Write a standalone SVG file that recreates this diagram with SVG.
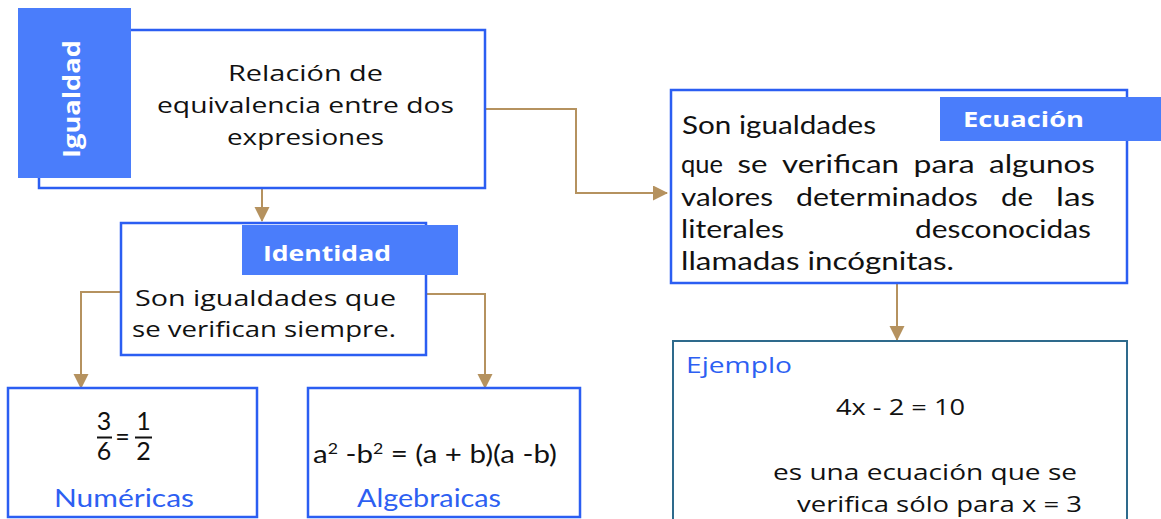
<svg xmlns="http://www.w3.org/2000/svg" width="1161" height="519" viewBox="0 0 1161 519">
<style>
.box{fill:#fff;stroke:#2b5ef2;stroke-width:2.5}
.ex{fill:#fff;stroke:#2e6a8c;stroke-width:2}
.lab{fill:#4a7dfb}
.t{font-family:"Open Sans","Noto Sans",sans-serif;font-size:22px;fill:#111}
.c{font-family:Lato,"Open Sans",sans-serif;font-size:25px;fill:#111}
.w{font-family:"Open Sans","Noto Sans",sans-serif;font-weight:bold;fill:#fff}
.b{font-family:"Open Sans","Noto Sans",sans-serif;font-size:22px;fill:#2d5ff2}
.bl{font-family:Lato,"Open Sans",sans-serif;font-size:25px;fill:#2d5ff2}
.con{fill:none;stroke:#b5925f;stroke-width:2}
</style>
<defs>
<marker id="ah" markerUnits="userSpaceOnUse" markerWidth="16" markerHeight="16" refX="14" refY="7.5" orient="auto">
<path d="M0,0 L15,7.5 L0,15 Z" fill="#b5925f"/>
</marker>
</defs>

<g id="connectors">
<path class="con" d="M262,188 V221" marker-end="url(#ah)"/>
<path class="con" d="M485,109 H576 V193 H667" marker-end="url(#ah)"/>
<path class="con" d="M121,292 H81 V388" marker-end="url(#ah)"/>
<path class="con" d="M426,294 H485 V388" marker-end="url(#ah)"/>
<path class="con" d="M897,283 V340" marker-end="url(#ah)"/>
</g>

<g id="igualdad">
<rect class="box" x="39" y="30" width="446" height="158"/>
<rect class="lab" x="18" y="8" width="113" height="170"/>
<text class="w" font-size="24" transform="translate(80,99) rotate(-90)" text-anchor="middle" textLength="118" lengthAdjust="spacingAndGlyphs">Igualdad</text>
<text class="t" x="228" y="81" textLength="155" lengthAdjust="spacingAndGlyphs">Relación de</text>
<text class="t" x="157" y="113" textLength="297" lengthAdjust="spacingAndGlyphs">equivalencia entre dos</text>
<text class="t" x="227" y="145" textLength="157" lengthAdjust="spacingAndGlyphs">expresiones</text>
</g>

<g id="identidad">
<rect class="box" x="121" y="223" width="305" height="132"/>
<rect class="lab" x="242" y="225" width="216" height="50"/>
<text class="w" font-size="22" x="263" y="261" textLength="128" lengthAdjust="spacingAndGlyphs">Identidad</text>
<text class="t" x="135" y="306" textLength="261" lengthAdjust="spacingAndGlyphs">Son igualdades que</text>
<text class="t" x="132" y="337" textLength="264" lengthAdjust="spacingAndGlyphs">se verifican siempre.</text>
</g>

<g id="ecuacion">
<rect class="box" x="671" y="90" width="456" height="193"/>
<rect class="lab" x="940" y="97" width="222" height="44"/>
<text class="w" font-size="22" x="963" y="127" textLength="121" lengthAdjust="spacingAndGlyphs">Ecuación</text>
<text class="c" x="682" y="134" textLength="194" lengthAdjust="spacingAndGlyphs">Son igualdades</text>
<text class="c" x="681" y="173" textLength="42" lengthAdjust="spacingAndGlyphs">que</text>
<text class="c" x="737.5" y="173" textLength="30" lengthAdjust="spacingAndGlyphs">se</text>
<text class="c" x="782" y="173" textLength="117" lengthAdjust="spacingAndGlyphs">verifican</text>
<text class="c" x="913.5" y="173" textLength="61" lengthAdjust="spacingAndGlyphs">para</text>
<text class="c" x="989" y="173" textLength="106" lengthAdjust="spacingAndGlyphs">algunos</text>
<text class="c" x="681" y="206" textLength="92" lengthAdjust="spacingAndGlyphs">valores</text>
<text class="c" x="796" y="206" textLength="182" lengthAdjust="spacingAndGlyphs">determinados</text>
<text class="c" x="1001" y="206" textLength="32" lengthAdjust="spacingAndGlyphs">de</text>
<text class="c" x="1056" y="206" textLength="39" lengthAdjust="spacingAndGlyphs">las</text>
<text class="c" x="681" y="238" textLength="103" lengthAdjust="spacingAndGlyphs">literales</text>
<text class="c" x="915" y="238" textLength="176" lengthAdjust="spacingAndGlyphs">desconocidas</text>
<text class="c" x="681" y="270" textLength="273" lengthAdjust="spacingAndGlyphs">llamadas incógnitas.</text>
</g>

<g id="ejemplo">
<rect class="ex" x="673" y="341" width="454" height="190"/>
<text class="b" x="686" y="373" textLength="106" lengthAdjust="spacingAndGlyphs">Ejemplo</text>
<text class="t" x="836" y="415" textLength="129" lengthAdjust="spacingAndGlyphs">4x - 2 = 10</text>
<text class="t" x="773" y="480" textLength="304" lengthAdjust="spacingAndGlyphs">es una ecuación que se</text>
<text class="t" x="797" y="512" textLength="285" lengthAdjust="spacingAndGlyphs">verifica sólo para x = 3</text>
</g>

<g id="numericas">
<rect class="box" x="8" y="388" width="249" height="129"/>
<text class="c" x="104" y="430" text-anchor="middle">3</text>
<text class="c" x="104" y="460" text-anchor="middle">6</text>
<line x1="97" y1="437.5" x2="112" y2="437.5" stroke="#111" stroke-width="2"/>
<text class="c" x="122.5" y="446" text-anchor="middle">=</text>
<text class="c" x="143.5" y="430" text-anchor="middle">1</text>
<text class="c" x="143.5" y="460" text-anchor="middle">2</text>
<line x1="135" y1="437.5" x2="152" y2="437.5" stroke="#111" stroke-width="2"/>
<text class="bl" x="54" y="507" textLength="140" lengthAdjust="spacingAndGlyphs">Numéricas</text>
</g>

<g id="algebraicas">
<rect class="box" x="308" y="388" width="272" height="129"/>
<text class="c" x="313" y="463" font-size="23" textLength="244" lengthAdjust="spacingAndGlyphs">a<tspan font-size="15" dy="-9">2</tspan><tspan dy="9"> -b</tspan><tspan font-size="15" dy="-9">2</tspan><tspan dy="9"> = (a + b)(a -b)</tspan></text>
<text class="bl" x="357" y="507" textLength="144" lengthAdjust="spacingAndGlyphs">Algebraicas</text>
</g>
</svg>
